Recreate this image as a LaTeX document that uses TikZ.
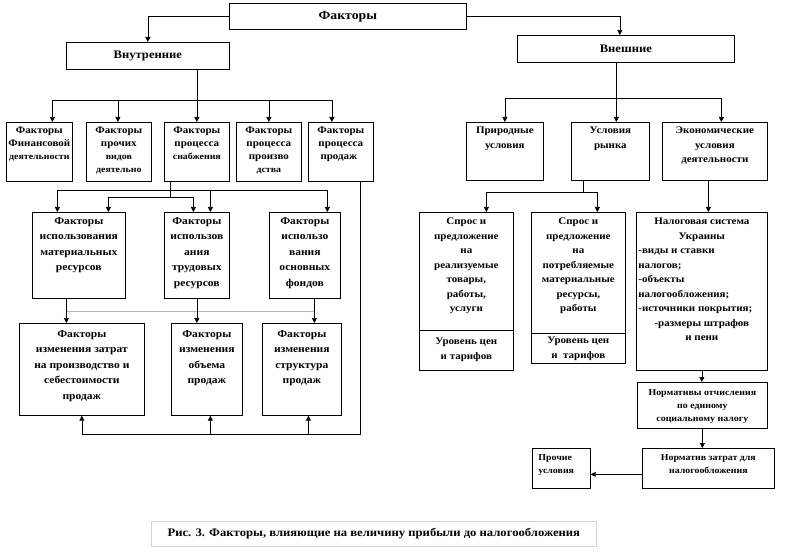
\documentclass[tikz,border=0pt]{standalone}
\usepackage{fontspec}
\setmainfont{Liberation Serif}[FakeStretch=1.1]
\usetikzlibrary{arrows.meta}
\newcommand{\bxt}[5]{\parbox[c][#2pt][#3]{#1pt}{\vspace*{#4pt}\centering #5\par}}
\tikzset{
  bx/.style={draw=black, line width=0.7pt, inner sep=0pt, anchor=north west, font=\bfseries\fontsize{10.5}{15.5}\selectfont},
  bxs/.style={bx, font=\bfseries\fontsize{10}{13}\selectfont},
  bxr/.style={bx, font=\bfseries\fontsize{10}{14.5}\selectfont},
  bxn/.style={bx, font=\bfseries\fontsize{9}{13}\selectfont},
  ln/.style={draw=black, line width=0.7pt},
  arr/.style={ln, -{Triangle[length=5pt,width=5pt]}},
}
\begin{document}
\begin{tikzpicture}[x=1pt,y=-1pt]
\useasboundingbox (0,0) rectangle (800,553);
\fill[white] (0,0) rectangle (800,553);

% top level
\node[bx] (fak) at (229,3) {\bxt{237}{26}{c}{0}{\fontsize{12.5}{14}\selectfont Факторы}};
\node[bx] (vnut) at (66,42) {\bxt{163}{27}{c}{0}{\fontsize{11.5}{13}\selectfont Внутренние}};
\node[bx] (vnesh) at (517,35) {\bxt{217}{27}{c}{0}{\fontsize{11.5}{13}\selectfont Внешние}};

% internal row 1
\node[bxs] (r1) at (6,122) {\bxt{66}{59}{t}{4.5}{Факторы\\Финансовой\\{\fontsize{9}{13}\selectfont деятельности}}};
\node[bxs] (r2) at (86,122) {\bxt{65}{59}{t}{4.5}{Факторы\\прочих\\{\fontsize{9}{12}\selectfont видов}\\{\fontsize{9}{12}\selectfont деятельно}}};
\node[bxs] (r3) at (164,122) {\bxt{65}{59}{t}{4.5}{Факторы\\процесса\\{\fontsize{9}{12}\selectfont снабжения}}};
\node[bxs] (r4) at (236,122) {\bxt{65}{59}{t}{4.5}{Факторы\\процесса\\произво\\{\fontsize{9}{12}\selectfont дства}}};
\node[bxs] (r5) at (308,122) {\bxt{65}{59}{t}{4.5}{Факторы\\процесса\\продаж\hspace*{4pt}}};

% internal row 3
\node[bx] (m1) at (32,212) {\bxt{93}{86}{t}{5}{Факторы\\использования\\материальных\\ресурсов}};
\node[bx] (m2) at (164,212) {\bxt{65}{86}{t}{5}{Факторы\\использов\\ания\\трудовых\\ресурсов}};
\node[bx] (m3) at (269,212) {\bxt{71}{86}{t}{5}{Факторы\\использо\\вания\\основных\\фондов}};

% internal row 4
\node[bx] (z1) at (19,323) {\bxt{125}{92}{t}{7}{Факторы\\изменения затрат\\на производство и\\себестоимости\\продаж}};
\node[bx] (z2) at (171,323) {\bxt{71}{92}{t}{7}{Факторы\\изменения\\объема\\продаж}};
\node[bx] (z3) at (262,323) {\bxt{79}{92}{t}{7}{Факторы\\изменения\\структура\\продаж}};

% external
\node[bxr] (e1) at (466,122) {\bxt{77}{58}{t}{5}{Природные\\условия}};
\node[bxr] (e2) at (571,122) {\bxt{78}{58}{t}{5}{Условия\\рынка}};
\node[bxr] (e3) at (662,122) {\bxt{105}{58}{t}{5}{Экономические\\условия\\деятельности}};

\node[bxr] (s1) at (419,212) {\bxt{94}{118}{t}{6}{Спрос и\\предложение\\на\\реализуемые\\товары,\\работы,\\услуги}};
\node[bxr] (s1b) at (419,330) {\bxt{94}{40}{t}{8}{Уровень цен\\и тарифов}};
\node[bxr] (s2) at (531,212) {\bxt{94}{121}{t}{6}{Спрос и\\предложение\\на\\потребляемые\\материальные\\ресурсы,\\работы}};
\node[bxr] (s2b) at (531,333) {\bxt{94}{30}{t}{4}{Уровень цен\\и\ \ тарифов}};

\node[bxr] (n1) at (636,212) {\bxt{131}{158}{t}{6}{Налоговая система\\Украины\par
  \raggedright\leftskip=2pt -виды и ставки\\налогов;\\-объекты\\налогообложения;\\-источники покрытия;\par
  \leftskip=0pt\centering -размеры штрафов\\и пени}};
\node[bxn] (nr1) at (637,382) {\bxt{130}{46}{t}{7}{Нормативы отчисления\\по единому\\социальному налогу}};
\node[bxn] (nr2) at (642,448) {\bxt{132}{40}{t}{6}{Норматив затрат для\\налогообложения}};
\node[bxn] (pr) at (532,448) {\bxt{58}{40}{t}{6}{\raggedright\hspace*{6pt}Прочие\\\hspace*{6pt}условия}};

% caption
\node[draw=gray!35, line width=0.6pt, inner sep=0pt, anchor=north west, font=\bfseries] (cap) at (151,521)
  {\bxt{445}{25}{c}{0}{\fontsize{11.5}{13}\selectfont Рис. 3. Факторы, влияющие на величину прибыли до налогообложения}};

% ---- connectors: top
\draw[arr] (fak.west) -| (vnut.north);
\draw[arr] (fak.east) -| ([xshift=-6pt]vnesh.north);

% internal -> row 1
\coordinate (h1) at (0,100);
\draw[ln] (vnut.south -| r3.north) -- (r3.north |- h1);
\draw[ln] ([xshift=13pt]r1.north |- h1) -- ([xshift=-9pt]r5.north |- h1);
\foreach \n/\s in {r1/13,r2/-1,r3/0,r4/0,r5/-9}
  \draw[arr] ([xshift=\s pt]\n.north |- h1) -- ([xshift=\s pt]\n.north);

% row 1 -> row 3
\coordinate (h2) at (0,190);
\coordinate (h3) at (0,197);
\draw[ln] ([xshift=-26.5pt]r3.south) -- ([xshift=-26.5pt]r3.south |- h3);
\draw[ln] ([xshift=-21.5pt]m1.north |- h2) -- ([xshift=22.5pt]m3.north |- h2);
\draw[ln] ([xshift=29.5pt]m1.north |- h3) -- ([xshift=-3.5pt]m2.north |- h3);
\foreach \n/\s in {m1/-21.5,m2/13.5,m3/22.5}
  \draw[arr] ([xshift=\s pt]\n.north |- h2) -- ([xshift=\s pt]\n.north);
\foreach \n/\s in {m1/29.5,m2/-3.5}
  \draw[arr] ([xshift=\s pt]\n.north |- h3) -- ([xshift=\s pt]\n.north);

% row 3 -> row 4
\coordinate (h4) at (0,311);
\draw[gray!60, line width=0.7pt] ([xshift=-12.5pt]m1.south |- h4) -- ([xshift=9.5pt]m3.south |- h4);
\draw[arr] ([xshift=-12.5pt]m1.south) -- ([xshift=-12.5pt]m1.south |- z1.north);
\draw[arr] (m2.south) -- (m2.south |- z2.north);
\draw[arr] ([xshift=9.5pt]m3.south) -- ([xshift=9.5pt]m3.south |- z3.north);

% feedback from sales
\coordinate (h5) at (0,434);
\draw[ln] ([xshift=19.5pt]r5.south) -- ([xshift=19.5pt]r5.south |- h5) -- (z1.south |- h5);
\foreach \n/\s in {z1/0,z2/3.5,z3/6.5}
  \draw[arr] ([xshift=\s pt]\n.south |- h5) -- ([xshift=\s pt]\n.south);

% external -> row 1
\coordinate (h6) at (0,98);
\draw[ln] ([xshift=-9.5pt]vnesh.south) -- ([xshift=-9.5pt]vnesh.south |- h6);
\draw[ln] (e1.north |- h6) -- ([xshift=6.5pt]e3.north |- h6);
\foreach \n/\s in {e1/0,e2/6,e3/6.5}
  \draw[arr] ([xshift=\s pt]\n.north |- h6) -- ([xshift=\s pt]\n.north);

% market -> supply/demand
\coordinate (h7) at (0,192);
\draw[ln] ([xshift=-27pt]e2.south) -- ([xshift=-27pt]e2.south |- h7);
\draw[ln] ([xshift=20pt]s1.north |- h7) -- ([xshift=19pt]s2.north |- h7);
\draw[arr] ([xshift=20pt]s1.north |- h7) -- ([xshift=20pt]s1.north);
\draw[arr] ([xshift=19pt]s2.north |- h7) -- ([xshift=19pt]s2.north);

% economic chain
\draw[arr] ([xshift=-6.5pt]e3.south) -- ([xshift=-6.5pt]e3.south |- n1.north);
\draw[arr] (n1.south) -- (n1.south |- nr1.north);
\draw[arr] (nr1.south) -- (nr1.south |- nr2.north);
\draw[arr] ([yshift=-6pt]nr2.west) -- ([yshift=-6pt]pr.east);
\end{tikzpicture}
\end{document}
